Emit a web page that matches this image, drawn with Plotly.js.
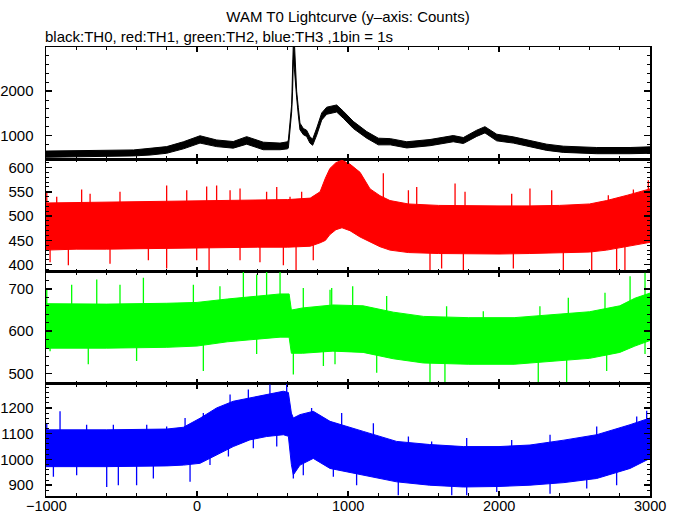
<!DOCTYPE html>
<html>
<head>
<meta charset="utf-8">
<script src="https://cdn.plot.ly/plotly-3.0.1.min.js"></script>
<style>html,body{margin:0;padding:0;background:#fff;}#chart{width:680px;height:515px;}</style>
</head>
<body>
<div id="chart"></div>
<script>
// ---- TH0 (black) envelope, counts per 1 s bin ----
const th0X    = [-1000,-800,-600,-421,-311,-201,-90,20,130,240,329,439,550,600,605,616,627,633,638,645,652,660,671,682,704,726,748,766,793,826,859,925,969,1035,1124,1201,1280,1389,1543,1697,1764,1852,1907,1985,2095,2205,2316,2426,2647,2868,3000];
const th0Low  = [510,515,525,540,560,600,700,830,750,715,805,680,680,700,720,1150,1540,2000,2700,2500,2100,1850,1460,1130,1020,980,830,780,1010,1350,1480,1530,1390,1160,940,790,790,720,770,860,820,980,1060,880,830,740,665,620,590,590,600];
const th0High = [650,655,665,675,712,750,860,995,900,865,975,850,830,860,900,1330,1700,2500,3100,3100,2500,2000,1630,1280,1160,1120,970,920,1170,1510,1640,1690,1550,1320,1090,940,930,860,910,1000,955,1120,1200,1030,970,880,805,760,730,730,745];

// ---- TH1 (red) ----
const th1X    = [-1000,-800,-600,-400,-200,0,200,400,600,750,815,850,880,920,960,1013,1080,1146,1212,1278,1400,1600,1800,2000,2200,2400,2600,2713,2850,3000];
const th1Low  = [430,432,432,433,433,434,435,436,436,438,445,450,462,472,476,470,457,447,437,430,425,423,422,422,423,424,426,430,438,446];
const th1High = [527,528,528,530,530,532,533,534,534,537,550,578,598,610,615,607,590,556,542,532,525,522,521,521,521,522,525,532,543,556];
// isolated bins sticking out of the band
const th1SpikeX = [-995,-929,-764,-708,-510,-201,-68,64,130,219,285,461,528,616,693,1234,1400,1455,1709,1775,2084,2205,2349,2724,2890,2989,
                   -973,-852,-576,-322,-201,-2,80,285,417,572,656,770,1543,1620,1764,2095,2426,2614,2779,2834];
const th1SpikeY = [550,540,555,546,550,563,553,561,563,553,557,550,560,540,550,588,553,560,567,550,546,557,553,543,555,574,
                   405,399,402,409,392,409,387,409,405,399,388,409,388,392,385,392,388,387,387,385];

// ---- TH2 (green) ----
const th2X    = [-1000,-600,-200,0,200,400,550,610,625,700,900,1100,1300,1500,1800,2100,2400,2600,2800,2900,3000];
const th2Low  = [560,560,562,565,575,582,586,586,548,548,553,550,535,525,522,522,530,536,550,565,578];
const th2High = [665,664,666,668,676,683,688,688,650,655,662,660,645,635,632,632,640,646,660,678,690];
const th2SpikeX = [-995,-830,-664,-510,-355,-24,152,307,395,461,550,704,881,892,1031,1256,1653,1896,2271,2459,2702,2868,2967,
                   -973,-720,-400,42,395,638,837,914,1190,1543,1642,2260,2448,2713,2967];
const th2SpikeY = [698,710,722,710,726,710,706,742,734,742,742,702,698,702,706,683,659,647,659,679,691,730,738,
                   553,522,530,506,546,498,518,522,502,479,479,479,479,506,546];

// ---- TH3 (blue) ----
const th3X    = [-1000,-600,-200,-90,20,130,240,350,461,572,605,625,638,682,770,881,1101,1322,1540,1764,2000,2205,2430,2647,2868,3000];
const th3Low  = [972,972,975,978,985,1017,1050,1076,1089,1096,1090,980,940,978,1004,965,939,913,900,893,895,900,910,926,965,1004];
const th3High = [1115,1115,1118,1125,1160,1200,1226,1239,1252,1265,1260,1180,1161,1174,1187,1148,1109,1070,1058,1050,1050,1056,1075,1096,1135,1161];
const th3SpikeX = [-995,-907,-731,-554,-333,-201,-79,42,219,340,483,594,759,958,1168,1400,1554,1786,2084,2338,2647,2912,2978,
                   -951,-797,-598,-521,-400,-289,-46,86,208,373,528,638,704,903,1057,1333,1687,1786,1985,2338,2581,2779];
const th3SpikeY = [1141,1187,1135,1135,1135,1128,1161,1180,1252,1272,1291,1298,1200,1180,1141,1089,1070,1083,1076,1096,1128,1167,1189,
                   933,939,893,900,900,926,913,978,1011,1043,1050,926,939,933,900,861,861,861,874,867,887,900];

// ---- time axis tick labels ----
const xTickVals = [-1000, 0, 1000, 2000, 3000];
const xTickText = ['−1000', '0', '1000', '2000', '3000'];

// ---- axes ----
const xRange = [-1000, 3000];
const xTickStep = 1000, xMinorStep = 200;
const panels = [
  {x: th0X, lo: th0Low, hi: th0High, sx: [], sy: [], color: '#000000', range: [465, 2998], dtick: 1000, minor: 200},
  {x: th1X, lo: th1Low, hi: th1High, sx: th1SpikeX, sy: th1SpikeY, color: '#ff0000', range: [386, 617],  dtick: 50,   minor: 10},
  {x: th2X, lo: th2Low, hi: th2High, sx: th2SpikeX, sy: th2SpikeY, color: '#00ff00', range: [476, 741],  dtick: 100,  minor: 20},
  {x: th3X, lo: th3Low, hi: th3High, sx: th3SpikeX, sy: th3SpikeY, color: '#0000ff', range: [858, 1294], dtick: 100,  minor: 20}
];

// band centre at a given x (anchors the spike segments to the band)
function bandMid(p, x) {
  for (let k = 1; k < p.x.length; k++) {
    if (x <= p.x[k]) {
      const t = (x - p.x[k-1]) / (p.x[k] - p.x[k-1]);
      const lo = p.lo[k-1] + t * (p.lo[k] - p.lo[k-1]);
      const hi = p.hi[k-1] + t * (p.hi[k] - p.hi[k-1]);
      return (lo + hi) / 2;
    }
  }
  return (p.lo[p.lo.length-1] + p.hi[p.hi.length-1]) / 2;
}

const FONT = 'Liberation Sans, Arial, Helvetica, sans-serif';
const traces = [];
const annotations = [{text: 'black:TH0, red:TH1, green:TH2, blue:TH3 ,1bin = 1s', xref: 'paper', yref: 'paper', x: 0, y: 1 + 11/449, xanchor: 'left', yanchor: 'middle', showarrow: false, font: {family: FONT, size: 15, color: '#000'}, xshift: -3}];
xTickVals.forEach((v, k) => {
  annotations.push({text: xTickText[k], xref: 'x4', yref: 'paper', x: v, y: -19/449, xanchor: 'center', yanchor: 'bottom', showarrow: false, borderpad: 0, font: {family: FONT, size: 14.5, color: '#000'}});
});
const layout = {
  width: 680, height: 515,
  margin: {l: 46, r: 30, t: 47, b: 19},
  paper_bgcolor: '#ffffff', plot_bgcolor: '#ffffff',
  showlegend: false,
  font: {family: FONT, size: 15, color: '#000'},
  title: {text: 'WAM T0 Lightcurve (y–axis: Counts)', x: 0.5, xref: 'paper', y: 1 - 17/515, yref: 'container', yanchor: 'middle', xanchor: 'center', font: {family: FONT, size: 15, color: '#000'}},
  annotations: annotations
};

panels.forEach((p, i) => {
  const n = i + 1;
  const xa = n === 1 ? 'x' : 'x' + n;
  const ya = n === 1 ? 'y' : 'y' + n;
  traces.push({x: p.x, y: p.lo, type: 'scatter', mode: 'lines', xaxis: xa, yaxis: ya, line: {color: p.color, width: 1}, hoverinfo: 'skip'});
  traces.push({x: p.x, y: p.hi, type: 'scatter', mode: 'lines', xaxis: xa, yaxis: ya, fill: 'tonexty', fillcolor: p.color, line: {color: p.color, width: 1}, hoverinfo: 'skip'});
  if (p.sx.length) {
    const segX = [], segY = [];
    p.sx.forEach((sx, k) => { segX.push(sx, sx, null); segY.push(p.sy[k], bandMid(p, sx), null); });
    traces.push({x: segX, y: segY, type: 'scatter', mode: 'lines', xaxis: xa, yaxis: ya, line: {color: p.color, width: 1.3}, connectgaps: false, hoverinfo: 'skip'});
  }
  const top = 1 - i * 0.25, bot = 1 - (i + 1) * 0.25;
  layout[n === 1 ? 'xaxis' : 'xaxis' + n] = {
    domain: [0, 1], anchor: ya, range: xRange, matches: n === 1 ? undefined : 'x',
    showline: true, linecolor: '#000', linewidth: 1.5, mirror: 'ticks',
    ticks: 'inside', ticklen: 5, tickwidth: 1.5, tickcolor: '#000', dtick: xTickStep, tick0: 0,
    minor: {ticks: 'inside', dtick: xMinorStep, ticklen: 3, tickwidth: 1, tickcolor: '#000', showgrid: false},
    showgrid: false, zeroline: false, showticklabels: false
  };
  layout[n === 1 ? 'yaxis' : 'yaxis' + n] = {
    domain: [bot, top], anchor: xa, range: p.range,
    showline: true, linecolor: '#000', linewidth: 1.5, mirror: 'ticks',
    ticks: 'inside', ticklen: 6, tickwidth: 1.5, tickcolor: '#000', dtick: p.dtick, tick0: 0,
    minor: {ticks: 'inside', dtick: p.minor, ticklen: 3, tickwidth: 1, tickcolor: '#000', showgrid: false},
    showgrid: false, zeroline: false,
    ticklabelstandoff: 8, tickfont: {family: FONT, size: 15, color: '#000'}
  };
});

Plotly.newPlot('chart', traces, layout, {staticPlot: true, displayModeBar: false});
</script>
</body>
</html>
